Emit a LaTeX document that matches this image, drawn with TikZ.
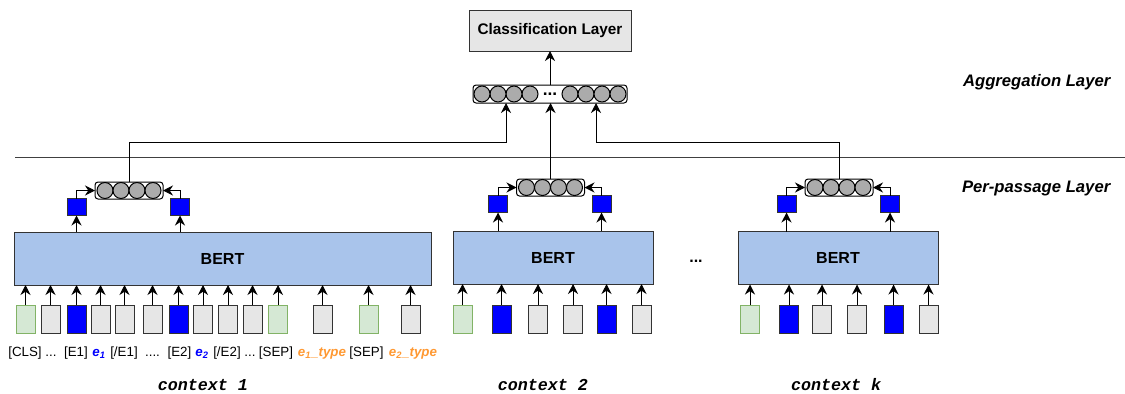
\documentclass[tikz,border=0pt]{standalone}
\usepackage{fontspec}
\setmainfont{Liberation Sans}
\setmonofont{Liberation Mono}
\usepackage{tikz}
\usetikzlibrary{arrows.meta,calc,positioning}
\newdimen\px
\px=.75pt
\definecolor{bertblue}{HTML}{A9C4EB}
\definecolor{clsgreen}{HTML}{D5E8D4}
\definecolor{clsedge}{HTML}{82B366}
\definecolor{tokgray}{HTML}{E6E6E6}
\definecolor{entblue}{HTML}{0000FF}
\definecolor{ballgray}{HTML}{ABABAB}
\definecolor{typeorange}{HTML}{FF9933}
\newcommand{\mention}[1]{\textcolor{entblue}{\bfseries\itshape #1}}
\newcommand{\mtype}[1]{\textcolor{typeorange}{\bfseries\itshape #1}}
\tikzstyle{box}=[
  draw=black!80,
  line width=\px,
  rectangle,
  inner sep=0pt,
  outer sep=0pt,
]
\tikzstyle{bert}=[
  box,
  fill=bertblue,
  minimum height=53\px,
  font={\bfseries\fontsize{12}{14}\selectfont},
]
\tikzstyle{classifier}=[
  box,
  fill=tokgray,
  minimum width=162\px,
  minimum height=41\px,
  font={\bfseries\fontsize{11.5}{14}\selectfont},
]
\tikzstyle{token}=[box, minimum width=19\px, minimum height=28\px]
\tikzstyle{cls}=[draw=clsedge, fill=clsgreen]
\tikzstyle{word}=[fill=tokgray]
\tikzstyle{ent}=[fill=entblue]
\tikzstyle{emb}=[box, fill=entblue, minimum width=19\px, minimum height=17\px]
\tikzstyle{vector}=[
  box,
  draw=black,
  fill=white,
  rounded corners=3\px,
  minimum width=68\px,
  minimum height=17\px,
]
\tikzstyle{ball}=[
  circle,
  draw=black,
  line width=\px,
  fill=ballgray,
  minimum size=16\px,
  inner sep=0pt,
]
\tikzstyle{arrow}=[
  ->,
  draw=black,
  line width=\px,
]
\tikzstyle{tag}=[
  font={\fontsize{10}{12}\selectfont},
  text height=1.6ex,
  text depth=.5ex,
  inner sep=0pt,
]
\tikzstyle{layername}=[
  anchor=east,
  font={\bfseries\itshape\fontsize{12.5}{15}\selectfont},
]
\tikzstyle{context}=[font={\ttfamily\bfseries\itshape\fontsize{12.5}{15}\selectfont}]
\tikzset{
  >={Stealth[length=7.5pt,width=7.5pt,inset=2.5pt]},
}

\begin{document}
\begin{tikzpicture}[x=\px, y=-\px]
  \useasboundingbox (0,0) rectangle (1125,393);
  %%
  \node (cls) [classifier] at (550,30.5) {Classification Layer};
  \node (agg) [vector, minimum width=154\px, minimum height=18\px] at (550,94) {\raisebox{-.4ex}{\bfseries\fontsize{13}{14}\selectfont...}};
  \foreach \d in {20,36,52,68} {
    \node (al-\d) [ball] at ($(agg)+(-\d,0)$) {};
    \node (ar-\d) [ball] at ($(agg)+(\d,0)$) {};
  }
  \draw [arrow] (agg) -- (cls);
  \draw [draw=black!75, line width=\px] (15,157.5) -- (1125,157.5);
  \node (aggname) [layername] at (1115,82) {Aggregation Layer};
  \node (pasname) [layername] at (1115,188.5) {Per-passage Layer};
  %%
  \node (b1) [bert, minimum width=417\px] at (222.5,258.5) {BERT};
  \node (v1) [vector] at (129,190.5) {};
  \node (e1a) [emb] at (76.5,207) {};
  \node (e1b) [emb] at (180,207) {};
  \foreach \x/\k/\t/\l [count=\i] in {25.5/cls/{[CLS]}/25, 50.5/word/{...}/51,
      76.5/ent/{[E1]}/76, 100.5/word/{\mention{e\textsubscript{1}}}/99,
      124.5/word/{[/E1]}/124, 152.5/word/{....}/152.5, 178.5/ent/{[E2]}/179.5,
      203/word/{\mention{e\textsubscript{2}}}/202, 228/word/{[/E2]}/227,
      252.5/word/{...}/250, 278/cls/{[SEP]}/276,
      322.5/word/{\mtype{e\textsubscript{1}\_type}}/322, 368.5/cls/{[SEP]}/366.5,
      410.5/word/{\mtype{e\textsubscript{2}\_type}}/413} {
    \node (t1-\i) [token, \k] at (\x,319) {};
    \node (w1-\i) [tag] at (\l,353) {\t};
    \draw [arrow] (t1-\i) -- (t1-\i |- b1.south);
  }
  \coordinate (j1) at (506,142.5);
  %%
  \node (b2) [bert, minimum width=200\px] at (553,257.5) {BERT};
  \node (v2) [vector] at (550.5,187.5) {};
  \node (e2a) [emb] at (498,204) {};
  \node (e2b) [emb] at (601.5,204) {};
  \foreach \x/\k [count=\i] in {462.5/cls, 501.5/ent, 538/word, 573/word, 606.5/ent, 641.5/word} {
    \node (t2-\i) [token, \k] at (\x,319) {};
    \draw [arrow] (t2-\i) -- (t2-\i |- b2.south);
  }
  %%
  \node (dots) [font={\bfseries\fontsize{12}{14}\selectfont}] at (696,261) {...};
  %%
  \node (bk) [bert, minimum width=200\px] at (838,258) {BERT};
  \node (vk) [vector] at (839,187.5) {};
  \node (eka) [emb] at (786.5,204) {};
  \node (ekb) [emb] at (890,204) {};
  \foreach \x/\k [count=\i] in {750/cls, 789/ent, 822/word, 857/word, 893.5/ent, 928.5/word} {
    \node (tk-\i) [token, \k] at (\x,319) {};
    \draw [arrow] (tk-\i) -- (tk-\i |- bk.south);
  }
  \coordinate (jk) at (596,142.5);
  %%
  \foreach \v in {1,2,k} {
    \foreach \d in {-24,-8,8,24} {
      \node (v\v-\d) [ball] at ($(v\v)+(\d,0)$) {};
    }
    \draw [arrow] (e\v a |- b\v.north) -- (e\v a);
    \draw [arrow] (e\v b |- b\v.north) -- (e\v b);
    \draw [arrow] (e\v a) |- (v\v);
    \draw [arrow] (e\v b) |- (v\v);
  }
  \draw [arrow] (v1) |- (j1) -- (j1 |- agg.south);
  \draw [arrow] (v2) -- (v2 |- agg.south);
  \draw [arrow] (vk) |- (jk) -- (jk |- agg.south);
  %%
  \node (c1) [context] at (203,385) {context 1};
  \node (c2) [context] at (543,385) {context 2};
  \node (ck) [context] at (836,385) {context k};
\end{tikzpicture}
\end{document}
